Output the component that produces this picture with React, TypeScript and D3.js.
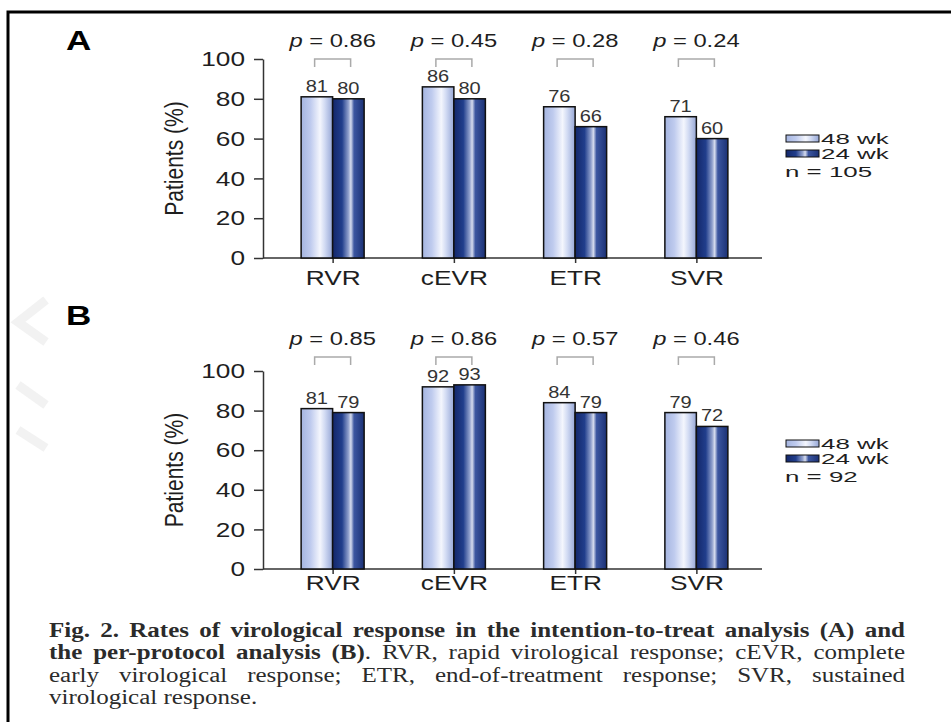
import React, { useEffect, useRef } from "react";
import * as d3 from "d3";

const categories = ["RVR", "cEVR", "ETR", "SVR"];
const seriesNames = ["48 wk", "24 wk"];
const panelA48 = [81, 86, 76, 71];
const panelA24 = [80, 80, 66, 60];
const panelB48 = [81, 92, 84, 79];
const panelB24 = [79, 93, 79, 72];
const pValuesA = ["0.86", "0.45", "0.28", "0.24"];
const pValuesB = ["0.85", "0.86", "0.57", "0.46"];
const yTicks = [0, 20, 40, 60, 80, 100];
const yTitle = "Patients (%)";

// caption: each line is a list of [text, bold] pieces
const captionLines: [string, boolean][][] = [
  [["Fig. 2. Rates of virological response in the intention-to-treat analysis (A) and", true]],
  [
    ["the per-protocol analysis (B)", true],
    [". RVR, rapid virological response; cEVR, complete", false],
  ],
  [["early virological response; ETR, end-of-treatment response; SVR, sustained", false]],
  [["virological response.", false]],
];
const captionJustify = [true, true, true, false];

const SX = 1.25; // source image is stretched horizontally
const SANS = "'Liberation Sans', Arial, sans-serif";

const panels = [
  {
    letter: "A", letterY: 50, v48: panelA48, v24: panelA24, pvals: pValuesA, n: "n = 105",
    y0: 258, y100: 59, pY: 47, bracketY: 59, catY: 285, legendY: 135,
  },
  {
    letter: "B", letterY: 325, v48: panelB48, v24: panelB24, pvals: pValuesB, n: "n = 92",
    y0: 569, y100: 371, pY: 345, bracketY: 357, catY: 590, legendY: 440,
  },
];

const App = () => {
  const svgRef = useRef<SVGSVGElement>(null);

  useEffect(() => {
    const svg = d3.select(svgRef.current);
    svg.selectAll("*").remove();

    const width = 951;
    const height = 722;
    svg.attr("width", width).attr("height", height);

    svg.append("rect").attr("width", width).attr("height", height).attr("fill", "white");

    const defs = svg.append("defs");
    const light = defs.append("linearGradient").attr("id", "gLight");
    [
      [0, "#a5b5e0"], [0.3, "#bfcbee"], [0.6, "#f4f6fd"], [0.75, "#d2dbf3"], [1, "#96a7d6"],
    ].forEach(([o, c]) => light.append("stop").attr("offset", o).attr("stop-color", c));
    const dark = defs.append("linearGradient").attr("id", "gDark");
    [
      [0, "#13276a"], [0.3, "#213e8c"], [0.5, "#8f9fcc"], [0.58, "#d6dcee"], [0.68, "#3c56a0"], [1, "#1b3175"],
    ].forEach(([o, c]) => dark.append("stop").attr("offset", o).attr("stop-color", c));

    // faint watermark traces
    const wm = svg.append("g").attr("fill", "none").attr("stroke", "#f2f2f2").attr("stroke-width", 9);
    wm.append("path").attr("d", "M46,300 L18,322 L46,342");
    wm.append("path").attr("d", "M18,385 L46,405");
    wm.append("path").attr("d", "M18,430 L46,448");

    // frame
    svg.append("path")
      .attr("d", `M8,${height} V12 H${width}`)
      .attr("fill", "none")
      .attr("stroke", "#000")
      .attr("stroke-width", 3);

    const stretched = (g: any, x: number, y: number, size: number, sx = SX) =>
      g.append("text")
        .attr("transform", `translate(${x},${y}) scale(${sx},1)`)
        .attr("font-family", SANS)
        .attr("font-size", size);

    const x = d3.scalePoint().domain(categories).range([272, 757]).padding(0.5);
    const xs = d3.scaleBand().domain(seriesNames).range([-31.5, 31.5]);

    panels.forEach((p) => {
      const g = svg.append("g");
      const y = d3.scaleLinear().domain([0, 100]).range([p.y0, p.y100]);

      stretched(g, 66, p.letterY, 28).attr("font-weight", "bold").attr("fill", "#000").text(p.letter);

      // y axis
      g.append("g")
        .attr("transform", "translate(263,0)")
        .call(d3.axisLeft(y).tickValues(yTicks).tickSize(9).tickSizeOuter(0))
        .call((a: any) => a.select(".domain").attr("stroke", "#333").attr("stroke-width", 1.5))
        .call((a: any) => a.selectAll(".tick line").attr("stroke", "#333").attr("stroke-width", 1.5))
        .call((a: any) => a.selectAll(".tick text")
          .attr("x", -18 / SX)
          .attr("transform", `scale(${SX},1)`)
          .attr("font-family", SANS)
          .attr("font-size", 21)
          .attr("fill", "#1e1e1e"));

      // y title
      g.append("text")
        .attr("transform", `translate(183,${(p.y0 + p.y100) / 2}) scale(${SX},1) rotate(-90)`)
        .attr("text-anchor", "middle")
        .attr("font-family", SANS)
        .attr("font-size", 21)
        .attr("fill", "#1e1e1e")
        .text(yTitle);

      // x axis
      g.append("line")
        .attr("x1", 263).attr("x2", 762)
        .attr("y1", p.y0).attr("y2", p.y0)
        .attr("stroke", "#333").attr("stroke-width", 1.5);
      g.append("g")
        .attr("transform", `translate(0,${p.y0})`)
        .call(d3.axisBottom(x).tickSize(5).tickSizeOuter(0))
        .call((a: any) => a.select(".domain").remove())
        .call((a: any) => a.selectAll(".tick line").attr("stroke", "#333").attr("stroke-width", 1.5))
        .call((a: any) => a.selectAll(".tick text")
          .attr("y", p.catY - p.y0)
          .attr("dy", 0)
          .attr("transform", `scale(${SX},1)`)
          .attr("font-family", SANS)
          .attr("font-size", 21)
          .attr("fill", "#1e1e1e"));

      // bars
      categories.forEach((c, i) => {
        const cx = x(c) as number;
        const vals = [p.v48[i], p.v24[i]];
        seriesNames.forEach((s, j) => {
          const bx = cx + (xs(s) as number);
          g.append("rect")
            .attr("x", bx)
            .attr("y", y(vals[j]))
            .attr("width", xs.bandwidth())
            .attr("height", p.y0 - y(vals[j]))
            .attr("fill", j === 0 ? "url(#gLight)" : "url(#gDark)")
            .attr("stroke", "#111")
            .attr("stroke-width", 1.5);
          stretched(g, bx + xs.bandwidth() / 2, y(vals[j]) - 5, 16)
            .attr("text-anchor", "middle")
            .attr("fill", "#333")
            .text(vals[j]);
        });

        // p value + bracket
        const pt = stretched(g, cx, p.pY, 19).attr("text-anchor", "middle").attr("fill", "#1e1e1e");
        pt.append("tspan").attr("font-style", "italic").text("p");
        pt.append("tspan").text(` = ${p.pvals[i]}`);
        g.append("path")
          .attr("d", `M${cx - 18},${p.bracketY + 8} V${p.bracketY} H${cx + 18} V${p.bracketY + 8}`)
          .attr("fill", "none")
          .attr("stroke", "#aaa")
          .attr("stroke-width", 1.5);
      });

      // legend
      seriesNames.forEach((s, j) => {
        const ly = p.legendY + j * 15;
        g.append("rect")
          .attr("x", 786).attr("y", ly)
          .attr("width", 33).attr("height", 7)
          .attr("fill", j === 0 ? "url(#gLight)" : "url(#gDark)")
          .attr("stroke", "#111").attr("stroke-width", 1);
        stretched(g, 821, ly + 9, 14, 1.85).attr("fill", "#1e1e1e").text(s);
      });
      stretched(g, 785, p.legendY + 42, 14, 1.85).attr("fill", "#1e1e1e").text(p.n);
    });

    // caption, justified word by word (stretched like the rest)
    const cap = svg.append("g")
      .attr("transform", `scale(${SX},1)`)
      .attr("font-family", "'Liberation Serif', 'DejaVu Serif', serif")
      .attr("font-size", 20)
      .attr("fill", "#2b2b2b");
    const left = 49 / SX;
    const right = 905 / SX;
    captionLines.forEach((line, li) => {
      const baseline = 637 + li * 22.5;
      const words: [string, boolean][][] = [];
      let cur: [string, boolean][] = [];
      line.forEach(([t, b]) => {
        t.split(/(\s+)/).forEach((part) => {
          if (part === "") return;
          if (/^\s+$/.test(part)) {
            if (cur.length) words.push(cur);
            cur = [];
          } else cur.push([part, b]);
        });
      });
      if (cur.length) words.push(cur);

      const nodes = words.map((w) => {
        const t = cap.append("text").attr("y", baseline);
        w.forEach(([s, b]) => t.append("tspan").attr("font-weight", b ? "bold" : "normal").text(s));
        return t;
      });
      const widths = nodes.map((n) => (n.node() as SVGTextElement).getComputedTextLength());
      const total = d3.sum(widths);
      const gap = captionJustify[li] && nodes.length > 1
        ? (right - left - total) / (nodes.length - 1)
        : 5;
      let cx = left;
      nodes.forEach((n, k) => {
        n.attr("x", cx);
        cx += widths[k] + gap;
      });
    });
  }, []);

  return <svg ref={svgRef} style={{ position: "absolute", left: 0, top: 0, display: "block" }} />;
};

export default App;
